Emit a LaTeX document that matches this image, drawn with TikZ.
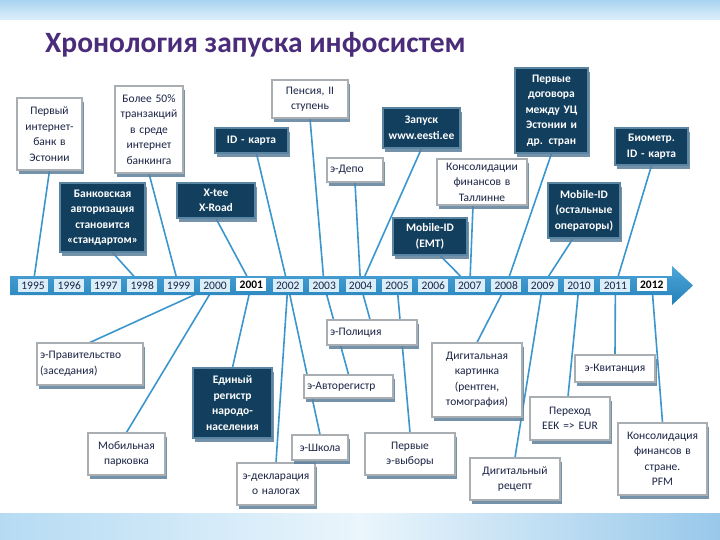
\documentclass[tikz,border=0pt]{standalone}
\usepackage{fontspec}
\setmainfont{Carlito}[Numbers=Lining]
\usetikzlibrary{shadows}
\pgfdeclarelayer{bg}
\pgfsetlayers{bg,main}
\definecolor{titlec}{HTML}{4A2C7A}
\definecolor{dfill}{HTML}{123F5E}
\definecolor{dbord}{HTML}{5A86A3}
\definecolor{wbord}{HTML}{A9AEB3}
\definecolor{wtext}{HTML}{1B2446}
\definecolor{shad}{HTML}{5D7F9C}
\definecolor{connc}{HTML}{3A96CC}
\definecolor{bandtop}{HTML}{4FA6D8}
\definecolor{bandbot}{HTML}{2380B9}
\definecolor{yrfill}{HTML}{DAEEF9}
\definecolor{topband}{HTML}{A9D4F0}
\definecolor{topband2}{HTML}{DDEFFA}
\definecolor{botl}{HTML}{B5DBF3}
\definecolor{botm}{HTML}{EAF5FC}
\definecolor{botr}{HTML}{98C8EA}
\newcommand{\bxfont}{\fontsize{11.5}{15.5}\selectfont}
\newcommand{\yrfont}{\fontsize{11.5}{12}\selectfont}
\tikzset{
  bx/.style 2 args={text width=#1pt-6pt, minimum height=#2, inner xsep=3pt, inner ysep=0pt},
  wbox/.style={draw=wbord, line width=1.1pt, fill=white, text=wtext, font=\bxfont, align=center,
    drop shadow={shadow xshift=2pt, shadow yshift=-4pt, fill=shad, opacity=.85}},
  lbox/.style={wbox, align=left},
  dbox/.style={draw=dbord, line width=1.1pt, fill=dfill, text=white, font=\bxfont\bfseries, align=center,
    drop shadow={shadow xshift=2pt, shadow yshift=-4pt, fill=shad, opacity=.85}},
  conn/.style={draw=connc, line width=1.6pt},
  yrbox/.style={fill=yrfill, text=wtext, font=\yrfont, minimum width=30, minimum height=13.5, inner sep=0pt, text height=7.6pt, text depth=0pt},
  yrboxb/.style={yrbox, fill=white, text=black, font=\yrfont\bfseries, yshift=1pt}
}
\begin{document}
\begin{tikzpicture}[x=1pt,y=-1pt]
\useasboundingbox (0,0) rectangle (720,540);
% background bands
\shade[top color=topband, bottom color=topband2] (0,0) rectangle (720,20);
\shade[left color=botl, right color=botr, middle color=botm] (0,513) rectangle (720,540);
% title
\node[anchor=base west, inner sep=0pt, font=\fontsize{29.5}{33}\selectfont\bfseries, text=titlec] (title) at (45,53) {Хронология запуска инфосистем};

% top boxes
\node[wbox, bx={65}{72}] (n1) at (49.5,134) {Первый\\интернет-\\банк в\\Эстонии};
\node[wbox, bx={68}{87}] (n2) at (149,129.5) {Более 50\%\\транзакций\\в среде\\интернет\\банкинга};
\node[dbox, bx={73}{25}] (n3) at (251.5,140.5) {ID - карта};
\node[wbox, bx={76}{38}] (n4) at (310,99) {Пенсия, II\\ступень};
\node[lbox, bx={56}{24}] (n5) at (355,170) {э-Депо};
\node[dbox, bx={77}{40}] (n6) at (421.5,128) {Запуск\\www.eesti.ee};
\node[wbox, bx={90}{46}] (n7) at (482,182) {Консолидации\\финансов в\\Таллинне};
\node[dbox, bx={74}{37}] (n8) at (430,236.5) {Mobile-ID\\(EMT)};
\node[dbox, bx={73}{85}] (n9) at (551.5,110.5) {Первые\\договора\\между УЦ\\Эстонии и\\др. стран};
\node[dbox, bx={73}{37}] (n10) at (651.5,146.5) {Биометр.\\ID - карта};
\node[dbox, bx={72}{55}] (n11) at (584,210.5) {Mobile-ID\\(остальные\\операторы)};
\node[dbox, bx={85}{69}] (n12) at (102.5,217.5) {Банковская\\авторизация\\становится\\«стандартом»};
\node[dbox, bx={78}{35}] (n13) at (216,200.5) {X-tee\\X-Road};

% bottom boxes
\node[lbox, bx={106}{42}] (b1) at (90,364) {э-Правительство\\(заседания)};
\node[wbox, bx={77}{42}] (b2) at (126.5,454) {Мобильная\\парковка};
\node[dbox, bx={79}{70}] (b3) at (232.5,403) {Единый\\регистр\\народо-\\населения};
\node[wbox, bx={78}{42}] (b4) at (276,484) {э-декларация\\о налогах};
\node[wbox, bx={56}{25}] (b5) at (320,447.5) {э-Школа};
\node[lbox, bx={89}{23}] (b6) at (348.5,386.5) {э-Авторегистр};
\node[lbox, bx={90}{25}] (b7) at (372,332.5) {э-Полиция};
\node[wbox, bx={90}{42}] (b8) at (410,454) {Первые\\э-выборы};
\node[wbox, bx={90}{74}] (b9) at (477,380) {Дигитальная\\картинка\\(рентген,\\томография)};
\node[wbox, bx={90}{42}] (b10) at (515,479) {Дигитальный\\рецепт};
\node[wbox, bx={80}{43}] (b11) at (570,418.5) {Переход\\EEK => EUR};
\node[wbox, bx={80}{27}] (b12) at (615,368.5) {э-Квитанция};
\node[wbox, bx={89}{72}] (b13) at (662.5,459) {Консолидация\\финансов в\\стране.\\PFM};

% timeline
\shade[top color=bandtop, bottom color=bandbot] (10,276) -- (672,276) -- (672,266) -- (693,285.5) -- (672,305) -- (672,295) -- (10,295) -- cycle;
\foreach \yr/\st [count=\i from 0] in {1995/yrbox,1996/yrbox,1997/yrbox,1998/yrbox,1999/yrbox,2000/yrbox,2001/yrboxb,2002/yrbox,2003/yrbox,2004/yrbox,2005/yrbox,2006/yrbox,2007/yrbox,2008/yrbox,2009/yrbox,2010/yrbox,2011/yrbox,2012/yrboxb}
  \node[\st] (Y\yr) at ({33+36.4*\i},285.5) {\yr};

% connectors
\begin{pgfonlayer}{bg}
\draw[conn] (n1.south) -- (Y1995.center);
\draw[conn] (n2.south) -- (Y1999.center);
\draw[conn] ([xshift=5pt]n3.south) -- (Y2002.center);
\draw[conn] (n4.south) -- (Y2003.center);
\draw[conn] (n5.south) -- (Y2004.center);
\draw[conn] (n6.south) -- (Y2004.center);
\draw[conn] ([xshift=-9pt]n7.south) -- (Y2007.center);
\draw[conn] ([xshift=10pt]n8.south) -- (Y2007.center);
\draw[conn] (n9.south) -- (Y2008.center);
\draw[conn] (n10.south) -- (Y2011.center);
\draw[conn] ([xshift=-11pt]n11.south) -- (Y2009.center);
\draw[conn] ([xshift=10pt]n12.south) -- (Y1998.center);
\draw[conn] (n13.south) -- (Y2001.center);
\draw[conn] (b1.north) -- (Y2000.center);
\draw[conn] (b2.north) -- (Y2000.center);
\draw[conn] (b3.north) -- (Y2001.center);
\draw[conn] (b4.north) -- (Y2002.center);
\draw[conn] (b5.north) -- (Y2002.center);
\draw[conn] (b6.north) -- (Y2003.center);
\draw[conn] ([xshift=-2pt]b7.north) -- (Y2004.center);
\draw[conn] (b8.north) -- (Y2005.center);
\draw[conn] (b9.north) -- (Y2008.center);
\draw[conn] (b10.north) -- (Y2009.center);
\draw[conn] ([xshift=-2pt]b11.north) -- (Y2010.center);
\draw[conn] (b12.north) -- (Y2011.center);
\draw[conn] (b13.north) -- (Y2012.center);
\end{pgfonlayer}
\end{tikzpicture}
\end{document}
